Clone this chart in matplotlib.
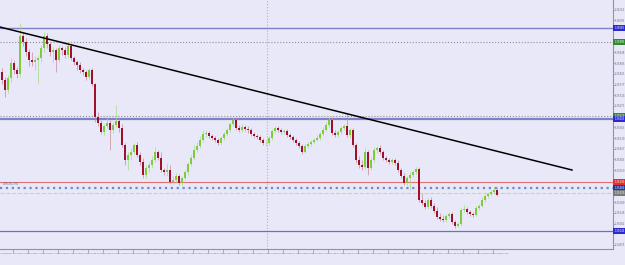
import matplotlib
matplotlib.use("Agg")
import matplotlib.pyplot as plt
import matplotlib.transforms as mtransforms
from matplotlib.patches import Rectangle
import numpy as np
import pandas as pd

# EURUSD M5, 23 Sep 2011 16:35 -> 26 Sep 2011 06:25 (weekend gap between)
open_first = 1.35840
close = [
    1.35800, 1.35750, 1.35810, 1.35885, 1.35850, 1.35830, 1.36020, 1.35990, 1.35940, 1.35900,
    1.35890, 1.35900, 1.35910, 1.35960, 1.36020, 1.35980, 1.35940, 1.35950, 1.35900, 1.35960,
    1.35950, 1.35925, 1.35970, 1.35910, 1.35890, 1.35875, 1.35850, 1.35840, 1.35815, 1.35850,
    1.35780, 1.35615, 1.35585, 1.35540, 1.35570, 1.35585, 1.35550, 1.35575, 1.35595, 1.35560,
    1.35475, 1.35400, 1.35425, 1.35440, 1.35475, 1.35425, 1.35390, 1.35325, 1.35360, 1.35375,
    1.35400, 1.35440, 1.35410, 1.35350, 1.35340, 1.35350, 1.35290, 1.35300, 1.35320, 1.35285,
    1.35310, 1.35340, 1.35380, 1.35410, 1.35450, 1.35470, 1.35500, 1.35530, 1.35535, 1.35520,
    1.35510, 1.35500, 1.35485, 1.35510, 1.35530, 1.35550, 1.35580, 1.35600, 1.35560, 1.35550,
    1.35565, 1.35555, 1.35550, 1.35530, 1.35520, 1.35515, 1.35500, 1.35485, 1.35485, 1.35510,
    1.35545, 1.35560, 1.35550, 1.35540, 1.35545, 1.35525, 1.35515, 1.35500, 1.35485, 1.35470,
    1.35440, 1.35470, 1.35480, 1.35490, 1.35500, 1.35510, 1.35530, 1.35550, 1.35575, 1.35600,
    1.35535, 1.35525, 1.35540, 1.35560, 1.35570, 1.35525, 1.35550, 1.35475, 1.35400, 1.35375,
    1.35365, 1.35440, 1.35360, 1.35400, 1.35450, 1.35460, 1.35440, 1.35410, 1.35400, 1.35390,
    1.35400, 1.35385, 1.35350, 1.35320, 1.35285, 1.35310, 1.35325, 1.35340, 1.35355, 1.35200,
    1.35185, 1.35165, 1.35200, 1.35170, 1.35145, 1.35115, 1.35105, 1.35100, 1.35120, 1.35130,
    1.35090, 1.35070, 1.35080, 1.35150, 1.35155, 1.35140, 1.35130, 1.35125, 1.35160, 1.35170,
    1.35200, 1.35220, 1.35230, 1.35240, 1.35250, 1.35225,
]
high = [
    1.35860, 1.35815, 1.35825, 1.35910, 1.35900, 1.35865, 1.36085, 1.36040, 1.36010, 1.35955,
    1.35940, 1.35920, 1.35925, 1.35975, 1.36040, 1.36035, 1.35990, 1.35965, 1.35960, 1.35975,
    1.35970, 1.35965, 1.35980, 1.35980, 1.35920, 1.35900, 1.35890, 1.35860, 1.35850, 1.35860,
    1.35860, 1.35785, 1.35640, 1.35600, 1.35580, 1.35610, 1.35600, 1.35590, 1.35675, 1.35610,
    1.35580, 1.35485, 1.35440, 1.35460, 1.35485, 1.35490, 1.35440, 1.35410, 1.35375, 1.35390,
    1.35420, 1.35465, 1.35450, 1.35440, 1.35360, 1.35385, 1.35375, 1.35320, 1.35335, 1.35330,
    1.35320, 1.35350, 1.35390, 1.35425, 1.35475, 1.35490, 1.35520, 1.35550, 1.35550, 1.35545,
    1.35530, 1.35520, 1.35510, 1.35520, 1.35540, 1.35560, 1.35590, 1.35615, 1.35610, 1.35575,
    1.35580, 1.35575, 1.35570, 1.35560, 1.35540, 1.35530, 1.35525, 1.35510, 1.35500, 1.35520,
    1.35555, 1.35570, 1.35570, 1.35560, 1.35555, 1.35555, 1.35535, 1.35525, 1.35510, 1.35495,
    1.35480, 1.35480, 1.35490, 1.35500, 1.35510, 1.35525, 1.35540, 1.35565, 1.35590, 1.35615,
    1.35615, 1.35550, 1.35550, 1.35570, 1.35580, 1.35635, 1.35560, 1.35560, 1.35485, 1.35420,
    1.35400, 1.35460, 1.35450, 1.35415, 1.35465, 1.35470, 1.35475, 1.35450, 1.35420, 1.35410,
    1.35410, 1.35410, 1.35400, 1.35360, 1.35335, 1.35320, 1.35340, 1.35350, 1.35365, 1.35365,
    1.35235, 1.35200, 1.35210, 1.35215, 1.35185, 1.35165, 1.35135, 1.35125, 1.35130, 1.35140,
    1.35140, 1.35100, 1.35090, 1.35160, 1.35175, 1.35165, 1.35150, 1.35140, 1.35170, 1.35180,
    1.35215, 1.35230, 1.35240, 1.35250, 1.35265, 1.35265,
]
low = [
    1.35780, 1.35715, 1.35735, 1.35790, 1.35830, 1.35810, 1.35815, 1.35970, 1.35920, 1.35870,
    1.35870, 1.35850, 1.35785, 1.35890, 1.35940, 1.35960, 1.35920, 1.35890, 1.35840, 1.35890,
    1.35925, 1.35910, 1.35910, 1.35900, 1.35875, 1.35850, 1.35835, 1.35825, 1.35800, 1.35805,
    1.35770, 1.35590, 1.35570, 1.35530, 1.35525, 1.35560, 1.35450, 1.35535, 1.35565, 1.35540,
    1.35465, 1.35375, 1.35350, 1.35400, 1.35430, 1.35415, 1.35375, 1.35310, 1.35310, 1.35340,
    1.35360, 1.35390, 1.35400, 1.35340, 1.35325, 1.35320, 1.35280, 1.35280, 1.35285, 1.35275,
    1.35275, 1.35300, 1.35325, 1.35370, 1.35400, 1.35440, 1.35460, 1.35490, 1.35515, 1.35510,
    1.35500, 1.35490, 1.35475, 1.35475, 1.35500, 1.35520, 1.35540, 1.35570, 1.35550, 1.35540,
    1.35540, 1.35545, 1.35535, 1.35520, 1.35510, 1.35505, 1.35490, 1.35475, 1.35470, 1.35475,
    1.35500, 1.35535, 1.35540, 1.35530, 1.35530, 1.35515, 1.35505, 1.35490, 1.35475, 1.35460,
    1.35430, 1.35435, 1.35460, 1.35470, 1.35480, 1.35495, 1.35500, 1.35520, 1.35545, 1.35565,
    1.35525, 1.35515, 1.35515, 1.35530, 1.35550, 1.35515, 1.35510, 1.35465, 1.35385, 1.35360,
    1.35350, 1.35355, 1.35325, 1.35350, 1.35390, 1.35435, 1.35430, 1.35400, 1.35390, 1.35380,
    1.35380, 1.35375, 1.35340, 1.35310, 1.35275, 1.35275, 1.35250, 1.35315, 1.35330, 1.35190,
    1.35175, 1.35155, 1.35155, 1.35160, 1.35135, 1.35105, 1.35095, 1.35090, 1.35090, 1.35110,
    1.35080, 1.35060, 1.35065, 1.35070, 1.35140, 1.35130, 1.35120, 1.35115, 1.35120, 1.35150,
    1.35165, 1.35190, 1.35210, 1.35220, 1.35230, 1.35220,
]

# horizontal levels drawn on the chart
level_price = [1.36060, 1.35990, 1.35620, 1.35605, 1.35290, 1.35260, 1.35235, 1.35045]
level_color = ["#8080c8", "#909090", "#909090", "#8080c8", "#e07070", "#6a8cc8", "#d8cfa0", "#7070b8"]
level_style = ["-", ":", ":", "-", "-", ":", "--", "-"]
level_width = [1.0, 0.8, 0.8, 1.6, 0.8, 1.6, 0.8, 0.9]
label_bg = ["#2a2ad0", "#2f8a2f", "#2f8a2f", "#2a2ad0", "#e03030", "#1a3aa0", "#7a7a7a", "#2a2ad0"]

# trend line end points (bar index, price)
trend_x = [-0.7, 190.0]
trend_y = [1.36065, 1.35350]

n = len(close)
opens = [open_first] + close[:-1]
times = list(pd.date_range("2011-09-23 16:35", "2011-09-23 23:55", freq="5min")) + \
        list(pd.date_range("2011-09-26 00:00", periods=n - 89, freq="5min"))

bg = "#e8e8f8"
fig = plt.figure(figsize=(6.25, 2.65), dpi=100, facecolor=bg)
ax = fig.add_axes([0, 16 / 265, 613 / 625, 249 / 265], facecolor=bg)

x = np.arange(n)
o = np.array(opens)
c = np.array(close)
up = c >= o
bull = "#7ccc3c"
bear = "#a0102a"

ax.vlines(x[up], np.array(low)[up], np.array(high)[up], color="#a6d88a", lw=0.5, zorder=3)
ax.vlines(x[~up], np.array(low)[~up], np.array(high)[~up], color="#c88a98", lw=0.5, zorder=3)
body = np.maximum(np.abs(c - o), 0.00002)
ax.bar(x[up], body[up], bottom=np.minimum(o, c)[up], width=0.72, color=bull, lw=0, zorder=4)
ax.bar(x[~up], body[~up], bottom=np.minimum(o, c)[~up], width=0.72, color=bear, lw=0, zorder=4)

for p, col, ls, lw in zip(level_price, level_color, level_style, level_width):
    ax.axhline(p, color=col, ls=ls, lw=lw, zorder=2)

ax.plot(trend_x, trend_y, color="black", lw=1.1, zorder=5)

# day separator
ax.axvline(88.5, color="#b0b0c8", ls=":", lw=0.8, zorder=1)

ax.set_xlim(-0.667, 203.67)
ax.set_ylim(1.34955, 1.36200)

# price scale on the right, hidden where a level label sits
yt = 1.34975 + 0.000535 * np.arange(23)
yt = [v for v in yt if min(abs(v - p) for p in level_price) > 0.00024]
ax.yaxis.tick_right()
ax.set_yticks(yt)
ax.set_yticklabels([f"{v:.5f}" for v in yt], fontsize=1.8, color="#6a6a88")
ax.tick_params(axis="y", length=1.2, width=0.5, color="#9090a8", pad=0.3)

# coloured price boxes for the levels
trans = mtransforms.blended_transform_factory(ax.transAxes, ax.transData)
for p, bgc in zip(level_price, label_bg):
    ax.add_patch(Rectangle((1.0005, p - 0.00013), 0.02, 0.00026, transform=trans,
                           fc=bgc, ec="none", clip_on=False, zorder=9))
    ax.text(1.0025, p, f"{p:.5f}", transform=trans, fontsize=1.8, color="white",
            va="center", ha="left", zorder=10, clip_on=False)

# time scale
ax.set_xticks([])
tick_idx = list(range(0, n, 5))
for k, i in enumerate(tick_idx):
    lab = "23 Sep 2011" if k == 0 else times[i].strftime("%d %b %H:%M")
    ax.text(i - 0.9, 1.34955 - 0.00018, lab, fontsize=1.55, color="#6a6a88",
            ha="left", va="top", clip_on=False)
    ax.plot([i - 1.2, i - 1.2], [1.34955, 1.34955 - 0.00022], color="#9090a8", lw=0.5, clip_on=False)

ax.text(0.3, 1.35268, "EURUSD,M5", fontsize=2.0, color="#707090", va="bottom", ha="left")

for s in ["top", "left"]:
    ax.spines[s].set_visible(False)
for s in ["right", "bottom"]:
    ax.spines[s].set_color("#9090a8")
    ax.spines[s].set_linewidth(0.8)

fig.savefig("out.png", dpi=100, facecolor=bg)
